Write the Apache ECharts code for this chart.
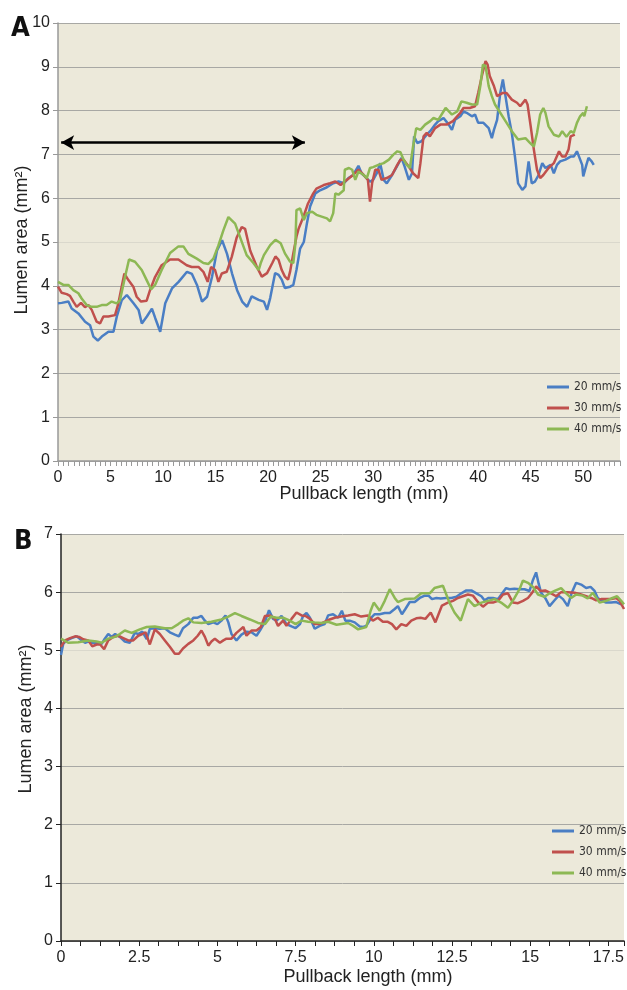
<!DOCTYPE html>
<html>
<head>
<meta charset="utf-8">
<script src="https://cdn.jsdelivr.net/npm/echarts@6/dist/echarts.min.js"></script>
<style>
  html, body { margin: 0; padding: 0; background: #fff; }
  #chart { width: 627px; height: 990px; }
</style>
</head>
<body>
<div id="chart"></div>
<script>
var seriesNames = ['20 mm/s', '30 mm/s', '40 mm/s'];
var seriesColors = ['#4A7EC4', '#C0504D', '#8DB854'];

// panel A: pullback length (mm), lumen area (mm2)
var aBlue = [[0,3.6],[0.35,3.61],[0.99,3.64],[1.3,3.48],[1.94,3.37],[2.58,3.18],[3.05,3.1],[3.37,2.84],[3.79,2.75],[4.17,2.84],[4.8,2.95],[5.28,2.95],[5.6,3.3],[6.07,3.67],[6.55,3.79],[7.19,3.6],[7.67,3.45],[7.98,3.14],[8.46,3.3],[8.94,3.48],[9.26,3.26],[9.73,2.95],[10.21,3.6],[10.85,3.94],[11.48,4.09],[12.28,4.32],[12.75,4.27],[13.23,4.02],[13.71,3.64],[14.19,3.75],[14.66,4.2],[15.14,4.81],[15.62,5.04],[16.09,4.73],[16.57,4.28],[17.05,3.9],[17.53,3.64],[18.0,3.52],[18.44,3.76],[19.1,3.68],[19.6,3.64],[19.9,3.45],[20.2,3.72],[20.67,4.29],[21.0,4.25],[21.3,4.14],[21.6,3.95],[22.1,3.98],[22.4,4.02],[22.7,4.36],[23.05,4.85],[23.4,5.0],[23.7,5.43],[24.0,5.81],[24.5,6.11],[24.95,6.18],[25.6,6.25],[26.2,6.34],[26.7,6.38],[27.2,6.34],[27.65,6.46],[28.1,6.53],[28.6,6.74],[28.9,6.57],[29.2,6.5],[29.7,6.38],[30.0,6.42],[30.35,6.57],[30.67,6.8],[31.0,6.42],[31.3,6.34],[31.8,6.53],[32.25,6.72],[32.7,6.92],[33.0,6.72],[33.4,6.42],[33.7,6.57],[33.9,7.41],[34.2,7.26],[34.6,7.3],[35.1,7.45],[35.43,7.53],[35.9,7.68],[36.2,7.76],[36.7,7.83],[37.2,7.68],[37.5,7.56],[37.8,7.79],[38.3,7.87],[38.6,7.98],[38.9,7.95],[39.4,7.87],[39.7,7.91],[40.0,7.72],[40.5,7.72],[41.0,7.6],[41.3,7.37],[41.5,7.56],[41.8,7.79],[42.1,8.4],[42.35,8.71],[42.6,8.33],[42.9,7.87],[43.2,7.49],[43.5,6.95],[43.8,6.34],[44.2,6.19],[44.5,6.27],[44.8,6.84],[45.1,6.34],[45.4,6.38],[45.75,6.53],[46.1,6.8],[46.4,6.69],[46.9,6.76],[47.2,6.57],[47.5,6.76],[47.8,6.84],[48.3,6.88],[48.8,6.95],[49.1,6.95],[49.4,7.07],[49.6,6.95],[49.9,6.76],[50.0,6.5],[50.3,6.76],[50.5,6.92],[50.8,6.84],[51.0,6.76]];
var aRed = [[0,3.98],[0.35,3.84],[0.83,3.81],[1.14,3.77],[1.46,3.64],[1.78,3.52],[2.19,3.61],[2.57,3.51],[2.89,3.56],[3.21,3.45],[3.68,3.18],[4.0,3.14],[4.32,3.3],[4.79,3.3],[5.43,3.33],[5.75,3.6],[6.06,3.98],[6.32,4.28],[6.7,4.13],[7.17,3.98],[7.49,3.75],[7.9,3.64],[8.44,3.66],[8.76,3.9],[9.24,4.2],[9.87,4.47],[10.67,4.6],[11.46,4.6],[12.25,4.47],[12.73,4.43],[13.37,4.43],[13.84,4.32],[14.25,4.09],[14.57,4.43],[14.95,4.36],[15.27,4.09],[15.59,4.28],[16.06,4.32],[16.54,4.66],[17.02,5.11],[17.49,5.34],[17.81,5.3],[18.3,4.8],[18.9,4.45],[19.4,4.21],[19.9,4.29],[20.4,4.52],[20.7,4.67],[21.0,4.59],[21.3,4.36],[21.6,4.21],[21.9,4.14],[22.1,4.33],[22.4,4.74],[22.7,5.12],[22.9,5.3],[23.4,5.6],[23.8,5.88],[24.3,6.11],[24.6,6.22],[25.3,6.3],[25.9,6.34],[26.4,6.38],[26.9,6.3],[27.3,6.38],[28.0,6.51],[28.6,6.65],[29.1,6.53],[29.5,6.42],[29.7,5.92],[29.9,6.34],[30.2,6.65],[30.5,6.65],[30.8,6.42],[31.3,6.46],[31.8,6.53],[32.3,6.76],[32.6,6.88],[32.9,6.88],[33.4,6.72],[33.8,6.57],[34.3,6.46],[34.5,6.8],[34.8,7.41],[35.1,7.49],[35.4,7.41],[35.9,7.6],[36.4,7.68],[37.0,7.68],[37.6,7.76],[38.3,7.95],[38.6,8.06],[39.2,8.06],[39.7,8.1],[40.0,8.4],[40.35,8.79],[40.7,9.13],[40.9,9.05],[41.1,8.79],[41.5,8.56],[41.8,8.33],[42.3,8.4],[42.7,8.4],[43.2,8.25],[43.7,8.18],[44.0,8.1],[44.5,8.25],[44.7,8.14],[45.0,7.64],[45.3,7.11],[45.6,6.65],[45.9,6.46],[46.2,6.53],[46.7,6.69],[47.2,6.8],[47.7,7.07],[48.0,6.95],[48.3,6.95],[48.6,7.11],[48.8,7.41],[49.2,7.45]];
var aGreen = [[0,4.09],[0.51,4.02],[0.98,4.02],[1.46,3.9],[1.94,3.83],[2.25,3.71],[2.73,3.56],[3.21,3.52],[3.68,3.52],[4.16,3.56],[4.63,3.56],[5.11,3.64],[5.59,3.6],[5.9,3.67],[6.38,4.2],[6.76,4.6],[7.33,4.55],[7.97,4.36],[8.44,4.13],[8.86,3.92],[9.24,4.02],[9.87,4.36],[10.67,4.75],[11.46,4.9],[11.94,4.9],[12.41,4.73],[13.21,4.62],[13.84,4.52],[14.32,4.5],[14.79,4.62],[15.27,4.92],[15.75,5.27],[16.22,5.57],[16.86,5.42],[17.33,5.11],[17.96,4.7],[18.6,4.52],[19.1,4.36],[19.3,4.52],[19.6,4.7],[20.2,4.93],[20.7,5.05],[21.2,4.97],[21.6,4.74],[22.1,4.55],[22.4,4.52],[22.6,4.97],[22.7,5.73],[23.05,5.77],[23.4,5.5],[23.7,5.66],[24.2,5.69],[24.6,5.62],[25.1,5.58],[25.6,5.54],[25.9,5.47],[26.2,5.66],[26.4,6.11],[26.7,6.08],[27.2,6.18],[27.3,6.65],[27.7,6.69],[28.0,6.65],[28.3,6.42],[28.6,6.61],[29.1,6.53],[29.4,6.46],[29.7,6.69],[30.0,6.71],[30.5,6.76],[31.0,6.8],[31.5,6.88],[31.9,6.99],[32.3,7.07],[32.6,7.05],[32.9,6.88],[33.2,6.76],[33.5,6.69],[33.8,7.18],[34.1,7.6],[34.5,7.56],[34.95,7.68],[35.43,7.76],[35.75,7.83],[36.2,7.79],[36.9,8.06],[37.5,7.91],[38.0,7.98],[38.4,8.21],[38.9,8.18],[39.4,8.14],[39.9,8.14],[40.2,8.56],[40.45,9.05],[40.7,9.02],[41.0,8.56],[41.3,8.33],[41.6,8.14],[42.1,7.95],[42.6,7.76],[43.2,7.53],[43.8,7.34],[44.5,7.37],[44.95,7.26],[45.3,7.18],[45.6,7.49],[45.9,7.91],[46.2,8.06],[46.4,7.95],[46.7,7.64],[47.2,7.45],[47.7,7.41],[48.0,7.53],[48.4,7.4],[48.8,7.53],[49.1,7.49],[49.4,7.72],[49.7,7.87],[50.0,7.95],[50.1,7.87],[50.35,8.1]];

// arrow in panel A: [start mm, end mm, lumen area]
var aArrow = [0.3, 23.5, 7.27];

// panel B
var bBlue = [[0,4.92],[0.07,5.11],[0.18,5.17],[0.34,5.21],[0.5,5.24],[0.66,5.17],[0.77,5.13],[0.87,5.15],[0.98,5.13],[1.14,5.13],[1.3,5.11],[1.4,5.2],[1.51,5.28],[1.62,5.23],[1.73,5.28],[1.88,5.23],[2.04,5.15],[2.2,5.13],[2.36,5.3],[2.47,5.28],[2.6,5.32],[2.74,5.19],[2.84,5.37],[3.0,5.38],[3.16,5.37],[3.32,5.38],[3.48,5.31],[3.64,5.27],[3.77,5.24],[3.9,5.38],[4.07,5.45],[4.23,5.56],[4.37,5.56],[4.49,5.59],[4.6,5.51],[4.71,5.45],[4.87,5.48],[5.0,5.45],[5.13,5.51],[5.26,5.6],[5.35,5.48],[5.45,5.28],[5.61,5.17],[5.77,5.27],[5.93,5.32],[6.09,5.31],[6.25,5.25],[6.36,5.34],[6.52,5.49],[6.65,5.69],[6.78,5.54],[6.89,5.51],[7.05,5.59],[7.21,5.45],[7.37,5.41],[7.5,5.38],[7.64,5.45],[7.74,5.59],[7.85,5.64],[7.96,5.56],[8.11,5.37],[8.27,5.42],[8.43,5.45],[8.54,5.6],[8.7,5.62],[8.86,5.56],[8.98,5.68],[9.09,5.51],[9.23,5.51],[9.39,5.48],[9.55,5.41],[9.66,5.4],[9.76,5.42],[9.92,5.56],[10.03,5.62],[10.19,5.62],[10.35,5.64],[10.51,5.64],[10.67,5.71],[10.77,5.76],[10.9,5.62],[11.01,5.71],[11.15,5.83],[11.31,5.83],[11.47,5.9],[11.63,5.94],[11.75,5.94],[11.86,5.88],[12.0,5.9],[12.14,5.89],[12.32,5.9],[12.48,5.9],[12.64,5.92],[12.8,5.98],[12.96,6.03],[13.12,6.03],[13.28,5.98],[13.44,5.93],[13.54,5.86],[13.67,5.9],[13.81,5.9],[13.97,5.88],[14.13,6.0],[14.23,6.07],[14.34,6.05],[14.5,6.06],[14.66,6.05],[14.82,6.05],[14.98,6.02],[15.09,6.21],[15.19,6.34],[15.27,6.15],[15.35,5.99],[15.48,5.9],[15.62,5.76],[15.78,5.86],[15.91,5.94],[16.05,5.88],[16.2,5.76],[16.33,5.99],[16.47,6.16],[16.63,6.13],[16.79,6.07],[16.93,6.09],[17.06,6.02],[17.16,5.9],[17.27,5.86],[17.43,5.82],[17.59,5.82],[17.75,5.83],[17.91,5.79]];
var bRed = [[0,5.06],[0.13,5.17],[0.29,5.21],[0.45,5.24],[0.58,5.23],[0.71,5.19],[0.87,5.17],[1.0,5.07],[1.14,5.1],[1.25,5.1],[1.38,5.02],[1.51,5.17],[1.67,5.23],[1.83,5.25],[1.99,5.21],[2.15,5.17],[2.31,5.17],[2.47,5.25],[2.6,5.28],[2.7,5.31],[2.84,5.1],[3.0,5.36],[3.16,5.28],[3.32,5.17],[3.48,5.06],[3.64,4.94],[3.77,4.94],[3.9,5.03],[4.07,5.11],[4.23,5.17],[4.37,5.25],[4.49,5.34],[4.6,5.23],[4.71,5.08],[4.81,5.15],[4.92,5.2],[5.08,5.13],[5.19,5.17],[5.29,5.2],[5.45,5.2],[5.61,5.3],[5.83,5.4],[5.93,5.25],[6.09,5.34],[6.25,5.34],[6.39,5.4],[6.52,5.59],[6.68,5.6],[6.84,5.54],[6.94,5.42],[7.1,5.51],[7.21,5.42],[7.37,5.54],[7.53,5.65],[7.69,5.6],[7.82,5.59],[7.96,5.54],[8.11,5.45],[8.27,5.45],[8.43,5.49],[8.59,5.53],[8.75,5.56],[8.96,5.58],[9.18,5.6],[9.39,5.62],[9.6,5.58],[9.81,5.6],[9.97,5.51],[10.13,5.56],[10.29,5.49],[10.45,5.49],[10.58,5.45],[10.72,5.36],[10.88,5.45],[11.04,5.42],[11.2,5.51],[11.36,5.55],[11.5,5.56],[11.65,5.54],[11.82,5.65],[11.97,5.48],[12.07,5.62],[12.18,5.77],[12.37,5.82],[12.53,5.85],[12.69,5.9],[12.85,5.93],[13.01,5.96],[13.17,5.94],[13.33,5.83],[13.49,5.75],[13.65,5.82],[13.81,5.82],[13.97,5.85],[14.13,5.96],[14.29,5.98],[14.45,5.82],[14.61,5.81],[14.77,5.85],[14.93,5.9],[15.05,5.98],[15.19,6.1],[15.33,6.02],[15.48,6.03],[15.67,5.98],[15.83,5.93],[15.99,6.0],[16.2,6.0],[16.42,5.99],[16.63,5.96],[16.79,5.93],[16.95,5.9],[17.11,5.86],[17.27,5.88],[17.43,5.88],[17.59,5.88],[17.75,5.9],[17.86,5.85],[18.0,5.71]];
var bGreen = [[0,5.2],[0.23,5.13],[0.55,5.14],[0.87,5.17],[1.14,5.15],[1.3,5.13],[1.51,5.2],[1.73,5.23],[1.88,5.28],[2.04,5.34],[2.26,5.3],[2.52,5.36],[2.74,5.4],[3.0,5.41],[3.32,5.38],[3.54,5.38],[3.75,5.45],[3.9,5.51],[4.07,5.55],[4.23,5.48],[4.49,5.47],[4.81,5.49],[5.13,5.53],[5.35,5.58],[5.56,5.64],[5.77,5.59],[6.04,5.53],[6.3,5.47],[6.52,5.45],[6.71,5.58],[6.89,5.56],[7.1,5.56],[7.32,5.51],[7.5,5.45],[7.69,5.51],[7.9,5.49],[8.11,5.48],[8.33,5.47],[8.54,5.49],[8.81,5.44],[9.18,5.47],[9.34,5.42],[9.5,5.36],[9.76,5.4],[9.9,5.68],[10.0,5.82],[10.19,5.68],[10.35,5.85],[10.51,6.05],[10.67,5.9],[10.77,5.83],[10.99,5.88],[11.31,5.89],[11.52,5.98],[11.79,5.98],[11.94,6.07],[12.21,6.11],[12.42,5.82],[12.58,5.65],[12.78,5.51],[13.01,5.88],[13.22,5.76],[13.44,5.82],[13.65,5.85],[13.86,5.88],[14.07,5.82],[14.29,5.73],[14.5,5.9],[14.66,6.05],[14.77,6.2],[14.93,6.16],[15.09,6.09],[15.25,5.96],[15.46,5.92],[15.62,5.98],[15.78,6.02],[15.99,6.07],[16.15,5.98],[16.31,5.9],[16.47,5.96],[16.68,5.94],[16.84,5.89],[17.0,5.99],[17.22,5.82],[17.43,5.85],[17.59,5.89],[17.78,5.93],[17.91,5.85],[18.0,5.79]];

var textFont = 'Liberation Sans, Arial, sans-serif';
var narrowFont = 'Liberation Sans Narrow, DejaVu Sans Condensed, sans-serif';
// gridline colours by tick index (the 5 line is drawn faint)
var gridColors = ['#A8A8A4','#A8A8A4','#A8A8A4','#A8A8A4','#A8A8A4','#DAD8CC','#A8A8A4','#A8A8A4','#A8A8A4','#A8A8A4','#A8A8A4'];

function lineSeries(name, color, data, idx, extra) {
	var s = {
		name: name,
		type: 'line',
		xAxisIndex: idx,
		yAxisIndex: idx,
		data: data,
		showSymbol: false,
		symbol: 'none',
		lineStyle: { color: color, width: 2.5 },
		itemStyle: { color: color },
		animation: false
	};
	if (extra) { for (var k in extra) s[k] = extra[k]; }
	return s;
}

var chart = echarts.init(document.getElementById('chart'));
var option = {
	animation: false,
	grid: [
		{ left: 58, top: 23, right: 7, height: 438, backgroundColor: '#ECE9DA', show: true, borderWidth: 0 },
		{ left: 61, top: 534, right: 2, height: 407, backgroundColor: '#ECE9DA', show: true, borderWidth: 0 }
	],
	xAxis: [
		{
			gridIndex: 0, type: 'value', min: 0, max: 53.5, interval: 0.5,
			axisLine: { lineStyle: { color: '#999', width: 1.5 } },
			axisTick: { show: true, length: 5, lineStyle: { color: '#999' } },
			splitLine: { show: false },
			axisLabel: {
				color: '#222', fontSize: 16, fontFamily: textFont, margin: 9,
				formatter: function (v) { return Math.abs(v % 5) < 1e-6 ? String(v) : ''; }
			}
		},
		{
			gridIndex: 1, type: 'value', min: 0, max: 18, interval: 0.625,
			axisLine: { lineStyle: { color: '#222', width: 1.5 } },
			axisTick: { show: true, length: 5, lineStyle: { color: '#222' } },
			splitLine: { show: false },
			axisLabel: {
				color: '#222', fontSize: 16, fontFamily: textFont, margin: 9,
				formatter: function (v) { return Math.abs(v / 2.5 - Math.round(v / 2.5)) < 1e-6 ? String(v) : ''; }
			}
		}
	],
	yAxis: [
		{
			gridIndex: 0, type: 'value', min: 0, max: 10, interval: 1,
			axisLine: { show: true, lineStyle: { color: '#999', width: 1.5 } },
			axisTick: { show: true, length: 5, lineStyle: { color: '#999' } },
			splitLine: { show: true, lineStyle: { color: gridColors, width: 1 } },
			axisLabel: { color: '#222', fontSize: 16, fontFamily: textFont, margin: 8 }
		},
		{
			gridIndex: 1, type: 'value', min: 0, max: 7, interval: 1,
			axisLine: { show: true, lineStyle: { color: '#222', width: 1.5 } },
			axisTick: { show: true, length: 5, lineStyle: { color: '#222' } },
			splitLine: { show: true, lineStyle: { color: gridColors, width: 1 } },
			axisLabel: { color: '#222', fontSize: 16, fontFamily: textFont, margin: 8 }
		}
	],
	legend: [
		{
			data: seriesNames, orient: 'vertical', left: 547, top: 381, padding: 0,
			icon: 'rect', itemWidth: 22, itemHeight: 3, itemGap: 9, itemTextGap: 2,
			textStyle: { fontSize: 12, color: '#333', fontFamily: narrowFont }
		},
		{
			data: seriesNames, orient: 'vertical', left: 552, top: 825, padding: 0,
			icon: 'rect', itemWidth: 22, itemHeight: 3, itemGap: 9, itemTextGap: 2,
			textStyle: { fontSize: 12, color: '#333', fontFamily: narrowFont }
		}
	],
	graphic: [
		{ type: 'text', left: 11, top: 15, style: { text: 'A', font: 'bold 27px ' + narrowFont, fill: '#111' } },
		{ type: 'text', left: 14, top: 528, style: { text: 'B', font: 'bold 27px ' + narrowFont, fill: '#111' } },
		{ type: 'text', x: 364, y: 494, style: { text: 'Pullback length (mm)', font: '18px ' + textFont, fill: '#222', align: 'center', verticalAlign: 'middle' } },
		{ type: 'text', x: 368, y: 977, style: { text: 'Pullback length (mm)', font: '18px ' + textFont, fill: '#222', align: 'center', verticalAlign: 'middle' } },
		{ type: 'text', x: 22, y: 240, rotation: Math.PI / 2, style: { text: 'Lumen area (mm²)', font: '18px ' + textFont, fill: '#222', align: 'center', verticalAlign: 'middle' } },
		{ type: 'text', x: 26, y: 719, rotation: Math.PI / 2, style: { text: 'Lumen area (mm²)', font: '18px ' + textFont, fill: '#222', align: 'center', verticalAlign: 'middle' } }
	],
	series: [
		lineSeries(seriesNames[0], seriesColors[0], aBlue, 0),
		lineSeries(seriesNames[1], seriesColors[1], aRed, 0),
		lineSeries(seriesNames[2], seriesColors[2], aGreen, 0, {
			markLine: {
				silent: true,
				symbol: ['arrow', 'arrow'],
				symbolSize: [11, 13],
				label: { show: false },
				lineStyle: { color: '#000', width: 2.5, type: 'solid' },
				data: [[{ coord: [aArrow[0], aArrow[2]] }, { coord: [aArrow[1], aArrow[2]] }]]
			}
		}),
		lineSeries(seriesNames[0], seriesColors[0], bBlue, 1),
		lineSeries(seriesNames[1], seriesColors[1], bRed, 1),
		lineSeries(seriesNames[2], seriesColors[2], bGreen, 1)
	]
};
chart.setOption(option);
</script>
</body>
</html>
